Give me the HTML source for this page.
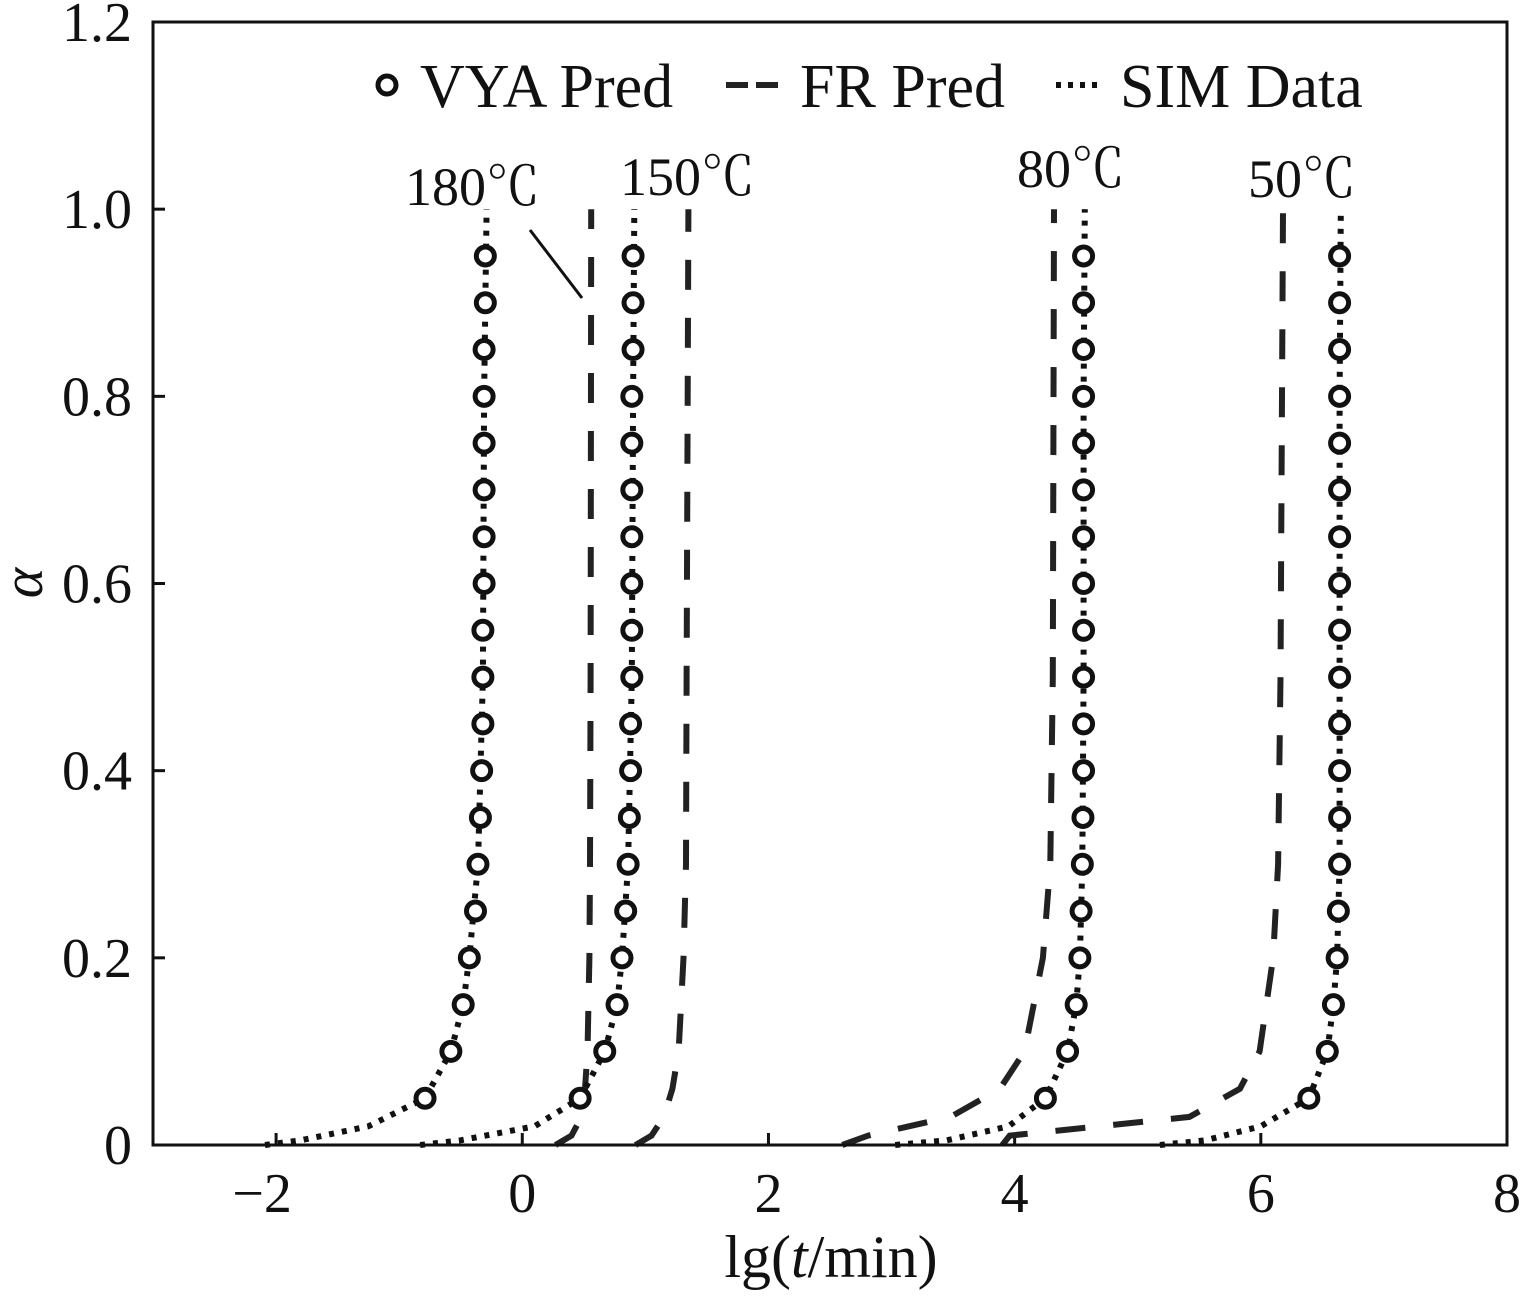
<!DOCTYPE html>
<html><head><meta charset="utf-8"><style>
body{margin:0;background:#fff}
svg text{font-family:"Liberation Serif","Noto Serif CJK SC",serif;fill:#111}
</style></head><body>
<svg id="chart" width="1530" height="1295" viewBox="0 0 1530 1295" xmlns="http://www.w3.org/2000/svg">
<g id="axes"></g>
<g id="series"></g>
<rect x="153" y="22" width="1354" height="1123" fill="none" stroke="#111" stroke-width="3"/>
<g>
<circle cx="387" cy="85" r="9" fill="none" stroke="#111" stroke-width="5"/>
<text x="420" y="107" font-size="62">VYA Pred</text>
<line x1="726" y1="85" x2="778" y2="85" stroke="#222" stroke-width="6" stroke-dasharray="22,8"/>
<text x="800" y="107" font-size="62">FR Pred</text>
<line x1="1056" y1="85" x2="1100" y2="85" stroke="#111" stroke-width="6" stroke-dasharray="5,7"/>
<text x="1120" y="107" font-size="62">SIM Data</text>
</g>
<text x="405" y="205" font-size="54">180℃</text>
<text x="620" y="195" font-size="54">150℃</text>
<text x="1017" y="187" font-size="54">80℃</text>
<text x="1248" y="197" font-size="54">50℃</text>
<line x1="530" y1="230" x2="582" y2="298" stroke="#111" stroke-width="3"/>
<text x="831" y="1277" font-size="60" text-anchor="middle">lg(<tspan font-style="italic">t</tspan>/min)</text>
<text transform="translate(42,583) rotate(-90)" font-size="58" font-style="italic" text-anchor="middle">α</text>
</svg>
<script>
const xTicks=[-2,0,2,4,6,8];
const xTickLabels=["−2","0","2","4","6","8"];
const yTicks=[0,0.2,0.4,0.6,0.8,1.0,1.2];
const yTickLabels=["0","0.2","0.4","0.6","0.8","1.0","1.2"];
const vyaAlpha=[0.05,0.1,0.15,0.2,0.25,0.3,0.35,0.4,0.45,0.5,0.55,0.6,0.65,0.7,0.75,0.8,0.85,0.9,0.95];
const vya180=[-0.79,-0.58,-0.48,-0.43,-0.38,-0.36,-0.34,-0.33,-0.32,-0.32,-0.32,-0.31,-0.31,-0.31,-0.31,-0.31,-0.31,-0.30,-0.30];
const vya150=[0.47,0.67,0.77,0.81,0.84,0.86,0.87,0.88,0.88,0.89,0.89,0.89,0.89,0.89,0.89,0.89,0.90,0.90,0.90];
const vya80=[4.25,4.43,4.50,4.53,4.54,4.55,4.555,4.56,4.56,4.56,4.56,4.56,4.56,4.56,4.56,4.56,4.56,4.56,4.56];
const vya50=[6.39,6.54,6.59,6.62,6.63,6.64,6.64,6.64,6.64,6.64,6.64,6.64,6.64,6.64,6.64,6.64,6.64,6.64,6.64];
const simAlpha=[0,0.005,0.02,0.05,0.1,0.15,0.2,0.3,0.5,0.8,1.0];
const sim180=[-2.09,-1.8,-1.25,-0.79,-0.58,-0.48,-0.43,-0.36,-0.32,-0.31,-0.29];
const sim150=[-0.83,-0.5,0.1,0.47,0.67,0.77,0.81,0.86,0.89,0.90,0.91];
const sim80=[3.03,3.45,3.95,4.25,4.43,4.50,4.53,4.55,4.56,4.56,4.57];
const sim50=[5.18,5.55,6.0,6.39,6.54,6.59,6.62,6.64,6.64,6.64,6.65];
const frAlpha=[0,0.01,0.03,0.06,0.1,0.2,0.3,0.5,1.0];
const fr180=[0.27,0.40,0.48,0.51,0.53,0.545,0.55,0.555,0.56];
const fr150=[0.92,1.05,1.15,1.22,1.27,1.31,1.33,1.335,1.35];
const fr80=[2.6,2.81,3.48,3.88,4.08,4.23,4.29,4.31,4.32];
const fr50=[3.9,3.96,5.42,5.83,5.99,6.10,6.14,6.16,6.18];
const NS="http://www.w3.org/2000/svg";
const X=v=>153+(v+3)*(1354/11);
const Y=v=>1145-v*(1123/1.2);
function mk(tag,attrs,parent){const e=document.createElementNS(NS,tag);for(const k in attrs)e.setAttribute(k,attrs[k]);parent.appendChild(e);return e;}
const ax=document.getElementById('axes');
xTicks.forEach((t,i)=>{
 const l=mk('line',{x1:X(t),x2:X(t),y1:1145,y2:1133,stroke:'#111','stroke-width':3},ax);
 
 
 const tx=mk('text',{x:X(t)-(t<0?14:0),y:1212,'font-size':56,'text-anchor':'middle'},ax);
 tx.textContent=xTickLabels[i];
 
 
});
yTicks.forEach((t,i)=>{
 const l=mk('line',{x1:153,x2:165,y1:Y(t),y2:Y(t),stroke:'#111','stroke-width':3},ax);
 
 
 const tx=mk('text',{x:132,y:Y(t)+19,'font-size':56,'text-anchor':'end'},ax);
 tx.textContent=yTickLabels[i];
 
 
});
const sg=document.getElementById('series');
function path(xs,as){return xs.map((x,i)=>(i?'L':'M')+X(x).toFixed(1)+','+Y(as[i]).toFixed(1)).join(' ');}
[[fr180,'180'],[fr150,'150'],[fr80,'80'],[fr50,'50']].forEach(([d,n])=>{
 const p=mk('path',{d:path(d,frAlpha),fill:'none',stroke:'#222','stroke-width':6,'stroke-dasharray':'30,28'},sg);
 
 
});
[[sim180,'180'],[sim150,'150'],[sim80,'80'],[sim50,'50']].forEach(([d,n])=>{
 const p=mk('path',{d:path(d,simAlpha),fill:'none',stroke:'#111','stroke-width':6,'stroke-dasharray':'5,8'},sg);
 
 
});
[[vya180,'180'],[vya150,'150'],[vya80,'80'],[vya50,'50']].forEach(([d,n])=>{
 d.forEach((x,i)=>{
  const c=mk('circle',{cx:X(x),cy:Y(vyaAlpha[i]),r:9,fill:'#fff',stroke:'#111','stroke-width':5},sg);
  
  
 });
});
</script>
</body></html>
